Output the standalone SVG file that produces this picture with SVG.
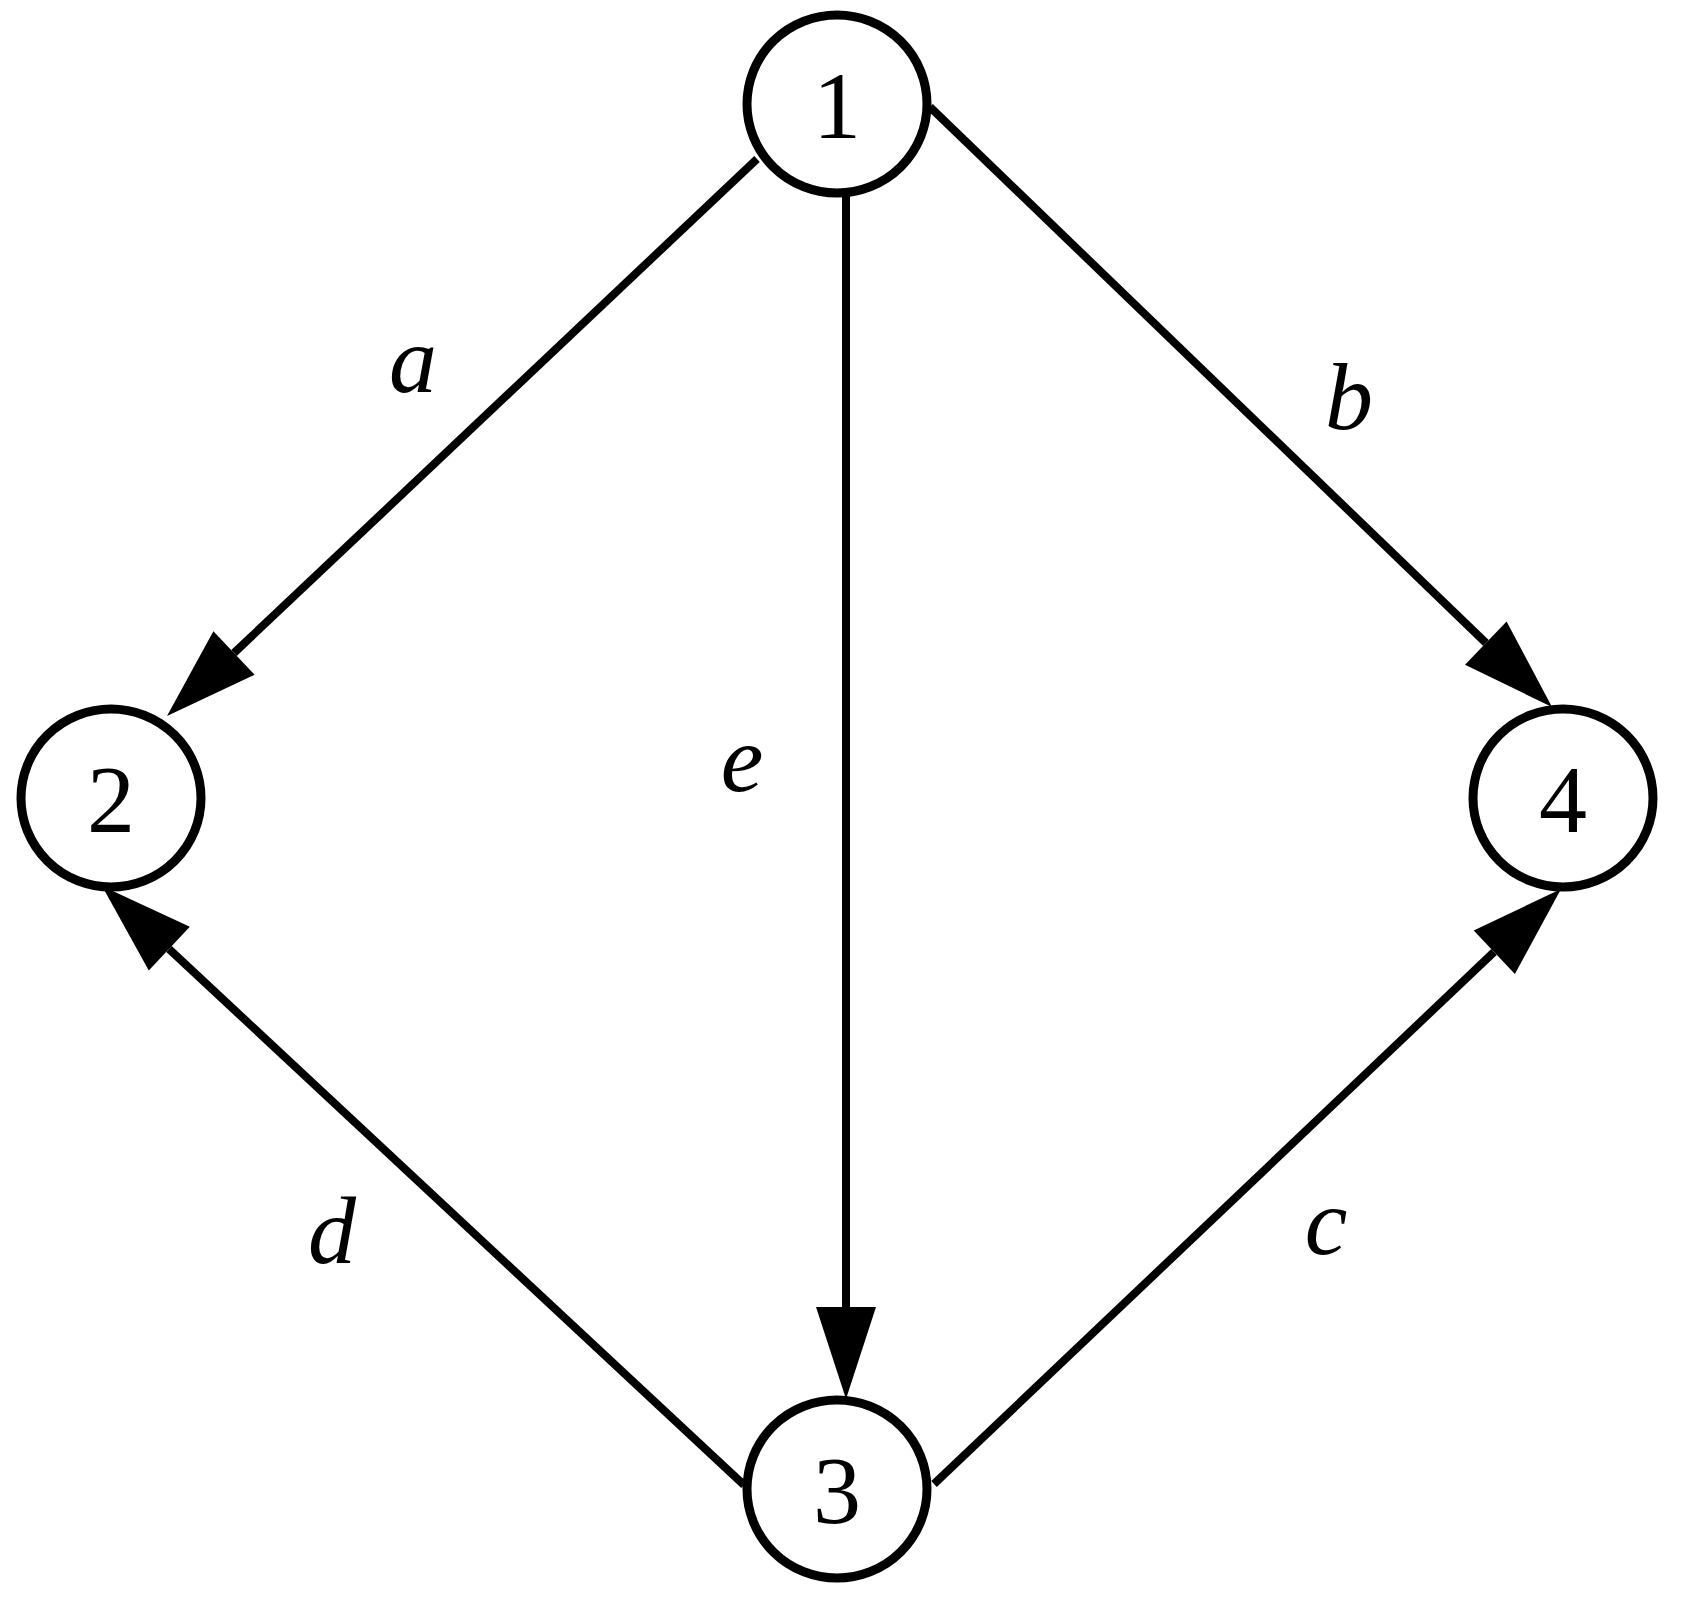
<svg xmlns="http://www.w3.org/2000/svg" width="1681" height="1604" viewBox="0 0 1681 1604">
<style>
.n{fill:#fff;stroke:#000;stroke-width:9}
.t{font-family:"Liberation Serif",serif;font-size:96px;text-anchor:middle}
.l{font-family:"Liberation Serif",serif;font-size:96px;font-style:italic;text-anchor:middle}
.e line{stroke:#000;stroke-width:8}
.e polygon{fill:#000}
</style>
<rect width="1681" height="1604" fill="#fff"/>
<g id="edges" class="e">
<line x1="757" y1="159" x2="234" y2="653"/><polygon points="167,716 254.6,674.8 213.4,631.2"/>
<line x1="930" y1="107" x2="1486" y2="643"/><polygon points="1552,707 1465,664.7 1506.6,621.5"/>
<line x1="934" y1="1484" x2="1494" y2="952"/><polygon points="1561,889 1514.9,974.1 1473.7,930.5"/>
<line x1="744" y1="1485" x2="169" y2="949"/><polygon points="102,886 189.8,926.8 148.8,970.6"/>
<line x1="846" y1="195" x2="846" y2="1310"/><polygon points="846,1399 816,1307 876,1307"/>
<text class="l" x="413" y="392">a</text>
<text class="l" x="1349" y="429">b</text>
<text class="l" x="742" y="791">e</text>
<text class="l" x="332" y="1263">d</text>
<text class="l" x="1326" y="1254">c</text>
</g>
<g id="n1"><ellipse class="n" cx="837" cy="104" rx="90" ry="89"/><text class="t" x="837" y="138">1</text></g>
<g id="n2"><ellipse class="n" cx="111" cy="798" rx="90" ry="89"/><text class="t" x="111" y="832">2</text></g>
<g id="n3"><ellipse class="n" cx="837" cy="1489" rx="90" ry="89"/><text class="t" x="837" y="1523">3</text></g>
<g id="n4"><ellipse class="n" cx="1563" cy="798" rx="90" ry="89"/><text class="t" x="1563" y="832">4</text></g>
</svg>
